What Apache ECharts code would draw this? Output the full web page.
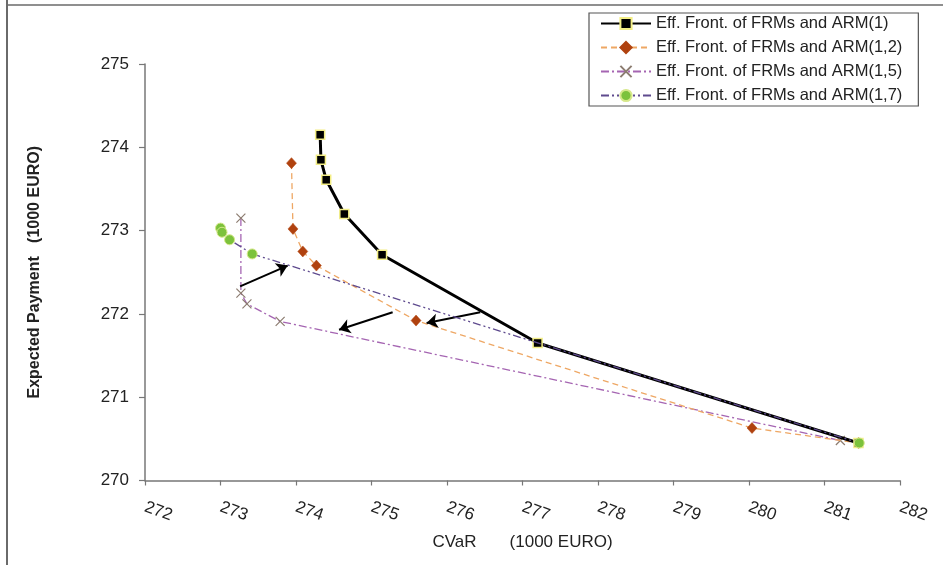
<!DOCTYPE html>
<html>
<head>
<meta charset="utf-8">
<script src="https://cdn.jsdelivr.net/npm/echarts@6/dist/echarts.min.js"></script>
<style>
html,body{margin:0;padding:0;background:#fff;}
#chart{width:943px;height:565px;}
</style>
</head>
<body>
<div id="chart"></div>
<script>
// ---- data (CVaR, Expected Payment) in 1000 EURO ----
const seriesNames = [
  'Eff. Front. of FRMs and ARM(1)',
  'Eff. Front. of FRMs and ARM(1,2)',
  'Eff. Front. of FRMs and ARM(1,5)',
  'Eff. Front. of FRMs and ARM(1,7)'
];
const arm1 = [[274.32,274.15],[274.33,273.85],[274.40,273.61],[274.64,273.20],[275.14,272.71],[277.20,271.65],[281.45,270.45]];
const arm12 = [[273.94,273.81],[273.96,273.02],[274.09,272.75],[274.27,272.58],[275.59,271.92],[280.04,270.63],[281.45,270.45]];
const arm15 = [[273.27,273.15],[273.27,272.25],[273.35,272.12],[273.79,271.91],[281.21,270.48]];
const arm17 = [[273.00,273.03],[273.02,272.98],[273.12,272.89],[273.42,272.72],[281.46,270.45]];
// annotation arrows: [start, end]
const arrows = [
  [[273.26,272.33],[273.89,272.58]],
  [[275.28,272.02],[274.57,271.81]],
  [[276.44,272.02],[275.73,271.89]]
];
const xRange = [272, 282];
const yRange = [270, 275];
const xTitle = 'CVaR       (1000 EURO)';
const yTitle = 'Expected Payment   (1000 EURO)';

const chart = echarts.init(document.getElementById('chart'), null, {renderer:'canvas'});
const font = 'Liberation Sans, Arial, sans-serif';
const option = {
  animation: false,
  backgroundColor: '#fff',
  graphic: [
    {type:'line', shape:{x1:7, y1:0, x2:7, y2:565}, style:{stroke:'#6a6a6a', lineWidth:2}},
    {type:'line', shape:{x1:7, y1:5, x2:943, y2:5}, style:{stroke:'#6a6a6a', lineWidth:1.5}}
  ],
  legend: {
    orient: 'vertical',
    left: 589, top: 13,
    padding: [2, 16, 2, 11],
    itemWidth: 50, itemHeight: 14, itemGap: 7,
    borderColor: '#555', borderWidth: 1.2,
    backgroundColor: '#fff',
    textStyle: {fontFamily: font, fontSize: 16.5, color: '#222'},
    data: seriesNames
  },
  grid: {left: 145, right: 43, top: 64, bottom: 84.5, containLabel: false},
  xAxis: {
    type: 'value', min: xRange[0], max: xRange[1], interval: 1,
    name: xTitle, nameLocation: 'middle', nameGap: 53,
    nameTextStyle: {fontFamily: font, fontSize: 17, color: '#222'},
    axisLine: {show: true, lineStyle: {color: '#777', width: 1.5}},
    axisTick: {show: true, length: 5, lineStyle: {color: '#777', width: 1.2}},
    axisLabel: {rotate: -20, margin: 26, fontFamily: font, fontSize: 17, color: '#222'},
    splitLine: {show: false}
  },
  yAxis: {
    type: 'value', min: yRange[0], max: yRange[1], interval: 1,
    name: yTitle, nameLocation: 'middle', nameGap: 102,
    nameTextStyle: {fontFamily: font, fontSize: 16, fontWeight: 'bold', color: '#222'},
    axisLine: {show: true, lineStyle: {color: '#777', width: 1.5}},
    axisTick: {show: true, length: 6, lineStyle: {color: '#777', width: 1.2}},
    axisLabel: {margin: 16, fontFamily: font, fontSize: 17, color: '#222'},
    splitLine: {show: false}
  },
  series: [
    {
      name: seriesNames[0], type: 'line', data: arm1, z: 5,
      symbol: 'rect', symbolSize: 9,
      lineStyle: {color: '#000', width: 3, type: 'solid'},
      itemStyle: {color: '#000', borderColor: '#f3ee86', borderWidth: 1.5},
      markLine: {
        silent: true, animation: false,
        symbol: ['none', 'arrow'], symbolSize: 11,
        label: {show: false},
        lineStyle: {color: '#000', width: 2, type: 'solid'},
        data: arrows.map(a => [{coord: a[0]}, {coord: a[1]}])
      }
    },
    {
      name: seriesNames[1], type: 'line', data: arm12, z: 4,
      symbol: 'diamond', symbolSize: [10, 11],
      lineStyle: {color: '#eea764', width: 1.3, type: [6, 4]},
      itemStyle: {color: '#b0420f', borderColor: '#b0420f', borderWidth: 0.5}
    },
    {
      name: seriesNames[2], type: 'line', data: arm15, z: 3,
      symbol: 'path://M0,0L10,10M10,0L0,10', symbolSize: 9,
      lineStyle: {color: '#a565b2', width: 1.3, type: [8, 3, 2, 3]},
      itemStyle: {color: 'transparent', borderColor: '#8c7c70', borderWidth: 1.2}
    },
    {
      name: seriesNames[3], type: 'line', data: arm17, z: 6,
      symbol: 'circle', symbolSize: 10,
      lineStyle: {color: '#5e4a8e', width: 1.3, type: [8, 3, 2, 3, 2, 3]},
      itemStyle: {color: '#7cc23c', borderColor: '#d6e88a', borderWidth: 1}
    }
  ]
};
chart.setOption(option);
</script>
</body>
</html>
